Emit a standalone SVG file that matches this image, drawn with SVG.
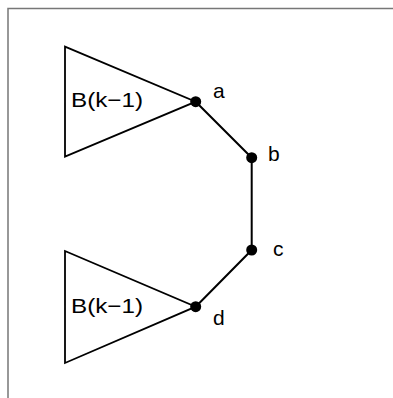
<svg xmlns="http://www.w3.org/2000/svg" width="393" height="398" viewBox="0 0 393 398">
<style>
.tri{fill:none;stroke:#000;stroke-width:1.8;stroke-linejoin:miter}
.edge{stroke:#000;stroke-width:2;fill:none}
.dot{fill:#000}
text{font-family:"Liberation Sans",Arial,sans-serif;font-size:21px;fill:#000}
.frame{stroke:#777;stroke-width:1.5;fill:none}
</style>
<rect width="393" height="398" fill="#fff"/>
<path class="frame" d="M8 398 V8.5 H393"/>
<g id="connectors">
<polyline class="edge" points="195.7,101.7 251.7,157.7 251.7,250 195.7,306.7"/>
</g>
<g id="tree1">
<polygon class="tri" points="65,46.7 195.7,101.7 65,156.7"/>
<text x="71" y="106.7" textLength="72" lengthAdjust="spacingAndGlyphs">B(k−1)</text>
</g>
<g id="tree2">
<polygon class="tri" points="65,251 195.7,306.7 65,363"/>
<text x="71" y="313" textLength="72" lengthAdjust="spacingAndGlyphs">B(k−1)</text>
</g>
<g id="node-a"><circle class="dot" cx="195.7" cy="101.7" r="5.5"/><text x="213" y="97.5">a</text></g>
<g id="node-b"><circle class="dot" cx="251.7" cy="157.7" r="5.5"/><text x="268" y="161">b</text></g>
<g id="node-c"><circle class="dot" cx="251.7" cy="250" r="5.5"/><text x="273" y="256">c</text></g>
<g id="node-d"><circle class="dot" cx="195.7" cy="306.7" r="5.5"/><text x="213" y="325">d</text></g>
</svg>
